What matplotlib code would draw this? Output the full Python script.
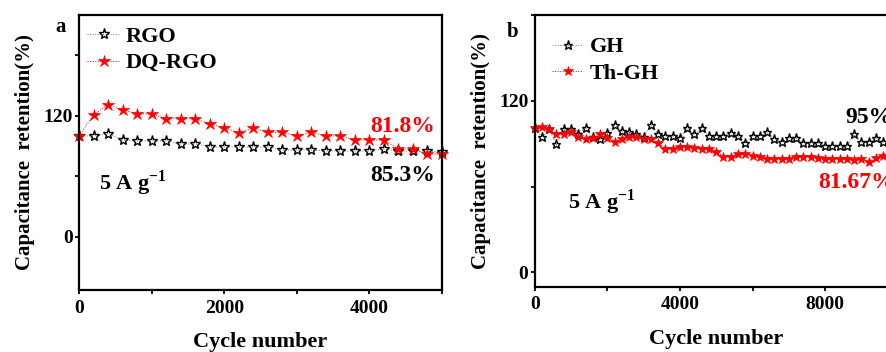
import matplotlib
matplotlib.use("Agg")
import matplotlib.pyplot as plt
import numpy as np
from matplotlib.ticker import MultipleLocator

plt.rcParams['font.family'] = ['Liberation Serif', 'DejaVu Serif']
plt.rcParams['font.weight'] = 'bold'
plt.rcParams['mathtext.fontset'] = 'custom'
plt.rcParams['mathtext.rm'] = 'Liberation Serif:bold'
plt.rcParams['mathtext.bf'] = 'Liberation Serif:bold'

# panel a: every 200 cycles, 0..5000
cycles_a = np.arange(0, 5001, 200)
rgo = [100, 100, 102, 96, 95, 95, 95, 92, 92, 89, 89, 89, 89, 89, 86, 86, 86,
       85, 85, 85, 85, 87, 85, 85, 85, 84]
dq_rgo = [100, 121, 131, 126, 122, 122, 117, 117, 117, 112, 108, 103, 108, 103.5,
          103.5, 100, 103.5, 100, 100, 96, 96, 96, 87, 87, 82, 82]

# panel b: every 200 cycles, 0..10000
cycles_b = np.arange(0, 10001, 200)
gh = [101, 94.5, 100, 89.5, 100.5, 100.5, 97, 101, 94.5, 93, 97.5, 103, 99, 98,
      97, 95, 103, 97, 95.5, 95.5, 94, 101, 96.5, 101, 95.5, 95.5, 95.5, 97.5,
      95.5, 90.5, 95.5, 95.5, 98, 93.5, 91, 94, 94, 90.5, 90.5, 90.5, 88.5, 88.5,
      88.5, 88.5, 96.5, 91, 91, 94, 91, 92, 91.5]
th_gh = [101, 101.5, 100.5, 96.5, 96.5, 98.5, 95, 93.5, 94, 96.5, 94, 91.5, 93.5,
         95, 95, 93, 93, 90.5, 86.5, 86.5, 88, 87.5, 87, 86.5, 86.5, 84.5, 81, 81,
         83, 83, 81.5, 81, 79.5, 79.5, 79.5, 79.5, 80.5, 81, 81, 80, 79.5, 79.5,
         79.5, 79.5, 78.5, 79, 77.5, 80, 81.5, 81, 80.5]

W, H = 886, 352
fig = plt.figure(figsize=(W / 100, H / 100), dpi=100)


def style_axes(ax):
    for s in ax.spines.values():
        s.set_linewidth(1.6)
    ax.tick_params(direction='out', length=3, width=1.3, labelsize=14, pad=1.5,
                   top=False, right=False)
    ax.tick_params(which='minor', direction='out', length=3, width=1.3)
    ax.tick_params(axis='x', pad=4)
    for lab in ax.get_xticklabels() + ax.get_yticklabels():
        lab.set_fontweight('bold')
    ax.set_xlabel('Cycle number', fontsize=16, fontweight='bold', labelpad=11)


def draw_series(ax, x, y, color, label, ms, hollow):
    ax.plot(x, y, linestyle=':', linewidth=0.7, color=color if not hollow else '0.45',
            marker='*', markersize=ms,
            markerfacecolor='none' if hollow else color,
            markeredgecolor=color, markeredgewidth=1.0 if hollow else 0.5,
            label=label, clip_on=False)


# ---- panel a
ax1 = fig.add_axes([79 / W, 1 - 290 / H, 363 / W, 275 / H])
draw_series(ax1, cycles_a, rgo, 'black', 'RGO', 8, True)
draw_series(ax1, cycles_a, dq_rgo, 'red', 'DQ-RGO', 9, False)
ax1.set_xlim(0, 5000)
ax1.set_ylim(-53, 220)
ax1.set_xticks([0, 2000, 4000])
ax1.set_yticks([0, 120])
ax1.xaxis.set_minor_locator(MultipleLocator(1000))
ax1.yaxis.set_minor_locator(MultipleLocator(60))
style_axes(ax1)
ax1.set_ylabel('Capacitance  retention(%)', fontsize=15, fontweight='bold', labelpad=6)
ax1.legend(loc='upper left', bbox_to_anchor=(0.022, 0.96), frameon=False,
           fontsize=16, handlelength=1.5, handletextpad=0.25, labelspacing=0.28,
           borderaxespad=0, borderpad=0)
ax1.text(0.981, 0.596, '81.8%', color='red', fontsize=17, fontweight='bold',
         ha='right', va='center', transform=ax1.transAxes)
ax1.text(0.981, 0.418, '85.3%', color='black', fontsize=17, fontweight='bold',
         ha='right', va='center', transform=ax1.transAxes)
ax1.text(0.055, 0.39, r'5 A g$^{\mathbf{-1}}$', fontsize=16, fontweight='bold',
         ha='left', va='center', transform=ax1.transAxes)
fig.text(61 / W, 1 - 27 / H, 'a', fontsize=15, fontweight='bold', ha='center', va='center')

# ---- panel b (cropped on the right like the reference)
ax2 = fig.add_axes([534.7 / W, 1 - 286.7 / H, 363 / W, 271.7 / H])
draw_series(ax2, cycles_b, gh, 'black', 'GH', 6.5, True)
draw_series(ax2, cycles_b, th_gh, 'red', 'Th-GH', 7.5, False)
ax2.set_xlim(0, 10000)
ax2.set_ylim(-10, 180)
ax2.set_xticks([0, 4000, 8000])
ax2.set_yticks([0, 120])
ax2.xaxis.set_minor_locator(MultipleLocator(2000))
ax2.yaxis.set_minor_locator(MultipleLocator(60))
style_axes(ax2)
ax2.set_ylabel('Capacitance  retention(%)', fontsize=15, fontweight='bold', labelpad=6)
ax2.legend(loc='upper left', bbox_to_anchor=(0.048, 0.92), frameon=False,
           fontsize=16, handlelength=1.4, handletextpad=0.3, labelspacing=0.28,
           borderaxespad=0, borderpad=0)
ax2.text(0.855, 0.621, '95%', color='black', fontsize=17, fontweight='bold',
         ha='left', va='center', transform=ax2.transAxes)
ax2.text(0.781, 0.382, '81.67%', color='red', fontsize=17, fontweight='bold',
         ha='left', va='center', transform=ax2.transAxes)
ax2.text(0.092, 0.31, r'5 A g$^{\mathbf{-1}}$', fontsize=16, fontweight='bold',
         ha='left', va='center', transform=ax2.transAxes)
fig.text(513 / W, 1 - 32 / H, 'b', fontsize=15, fontweight='bold', ha='center', va='center')

fig.savefig('out.png', dpi=100)
